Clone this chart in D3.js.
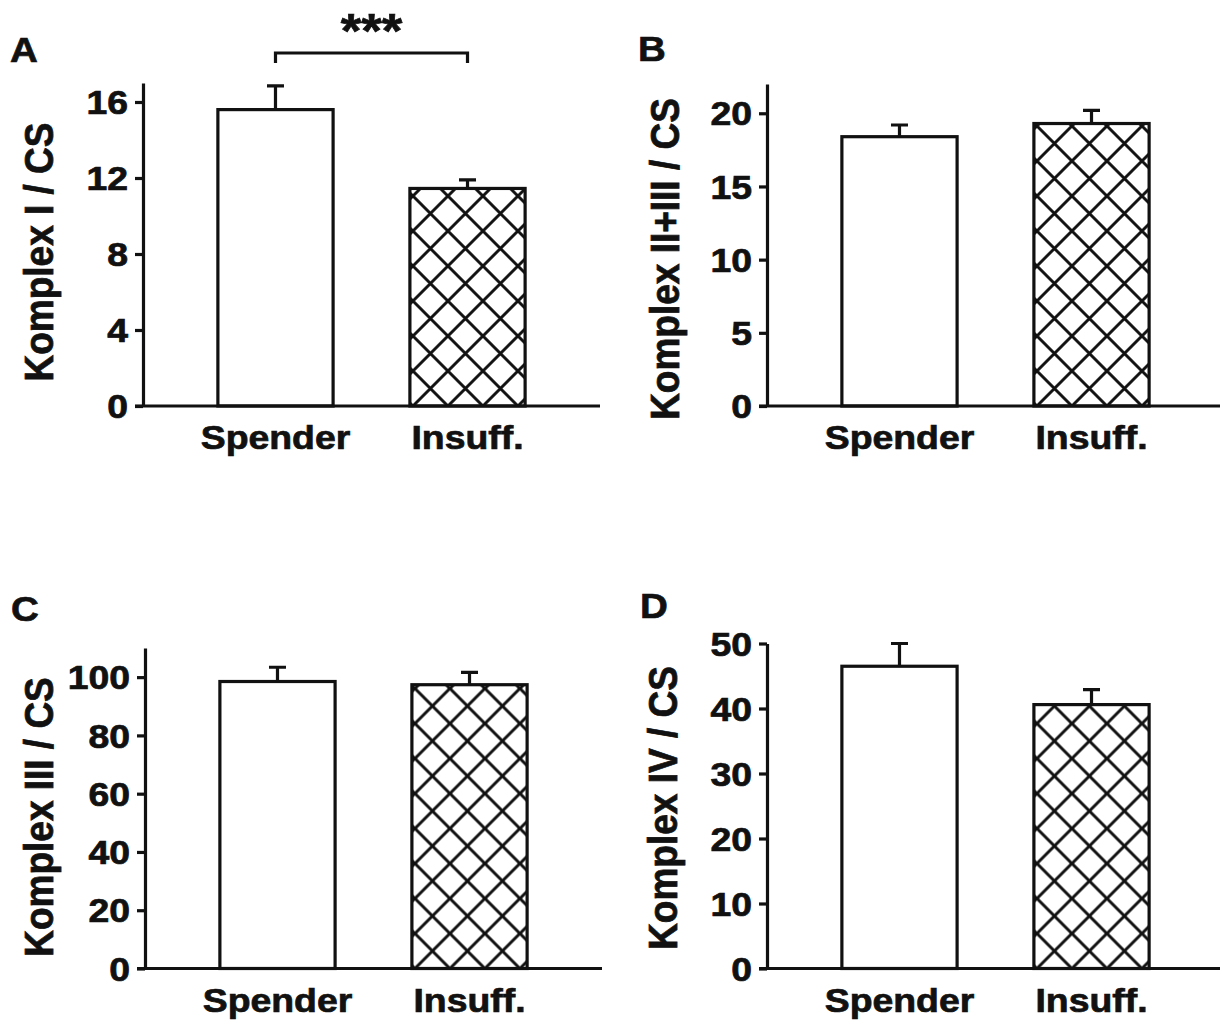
<!DOCTYPE html>
<html>
<head>
<meta charset="utf-8">
<script src="https://cdn.jsdelivr.net/npm/d3@7"></script>
<style>
  body { margin: 0; background: #fff; }
  svg text { font-family: "Liberation Sans", Arial, sans-serif; font-weight: bold; fill: #111; stroke: #111; stroke-width: 0.7px; }
</style>
</head>
<body>
<div id="chart"></div>
<script>
const width = 1220;
const height = 1023;

// data
const groups = ["Spender", "Insuff."];
const panelLetters = ["A", "B", "C", "D"];
const yLabels = ["Komplex I / CS", "Komplex II+III / CS", "Komplex III / CS", "Komplex IV / CS"];
const yMax = [17, 22, 110, 50];
const yTicks = [
  [0, 4, 8, 12, 16],
  [0, 5, 10, 15, 20],
  [0, 20, 40, 60, 80, 100],
  [0, 10, 20, 30, 40, 50]
];
const means = [
  [15.6, 11.45],
  [18.4, 19.3],
  [98.5, 97.4],
  [46.5, 40.6]
];
const sems = [
  [1.25, 0.45],
  [0.8, 0.9],
  [4.9, 4.2],
  [3.5, 2.3]
];
const signif = "***"; // only panel A

// layout of each panel (axis origin, top of axis, label anchors)
const layout = [
  { x0: 143, y0: 406, top: 83, labX: 53, labY: 252, letX: 10, letY: 62 },
  { x0: 767, y0: 406, top: 84, labX: 679, labY: 259, letX: 638, letY: 61 },
  { x0: 145, y0: 968.5, top: 648, labX: 53, labY: 817, letX: 11, letY: 621 },
  { x0: 767, y0: 968.5, top: 643.5, labX: 677, labY: 808, letX: 640, letY: 618 }
];
const axisLen = 457;
const tile = 35;
const stretch = 1.15;

const svg = d3.select("#chart")
  .append("svg")
  .attr("width", width)
  .attr("height", height);

svg.append("rect").attr("width", width).attr("height", height).attr("fill", "#fff");

const defs = svg.append("defs");
const s = tile;
const hatchPath = [
  `M0,0L${s},${s}`, `M${-s/2},${s/2}L${s/2},${3*s/2}`, `M${s/2},${-s/2}L${3*s/2},${s/2}`,
  `M${s},0L0,${s}`, `M${-s/2},${s/2}L${s/2},${-s/2}`, `M${s/2},${3*s/2}L${3*s/2},${s/2}`
].join("");

layout.forEach((L, i) => {
  const x = d3.scaleBand()
    .domain(groups)
    .range([L.x0, L.x0 + axisLen])
    .paddingInner(0.4)
    .paddingOuter(0.39);

  const y = d3.scaleLinear()
    .domain([0, yMax[i]])
    .range([L.y0, L.top]);

  // cross-hatch for the second bar, anchored at its lower left corner
  const pat = defs.append("pattern")
    .attr("id", "hatch" + i)
    .attr("patternUnits", "userSpaceOnUse")
    .attr("width", s)
    .attr("height", s)
    .attr("x", x(groups[1]) + 3)
    .attr("y", L.y0);
  pat.append("rect").attr("width", s).attr("height", s).attr("fill", "#fff");
  pat.append("path").attr("d", hatchPath).attr("stroke", "#111").attr("stroke-width", 3);

  const g = svg.append("g");

  // bars
  g.selectAll("rect.bar")
    .data(groups)
    .enter()
    .append("rect")
    .attr("class", "bar")
    .attr("x", d => x(d))
    .attr("width", x.bandwidth())
    .attr("y", (d, j) => y(means[i][j]))
    .attr("height", (d, j) => L.y0 - y(means[i][j]))
    .attr("fill", (d, j) => j === 0 ? "#fff" : `url(#hatch${i})`)
    .attr("stroke", "#111")
    .attr("stroke-width", 3.2);

  // error bars (upper only)
  groups.forEach((d, j) => {
    const cx = x(d) + x.bandwidth() / 2;
    const top = y(means[i][j] + sems[i][j]);
    g.append("path")
      .attr("d", `M${cx},${y(means[i][j])}V${top}M${cx - 8.5},${top}H${cx + 8.5}`)
      .attr("fill", "none")
      .attr("stroke", "#111")
      .attr("stroke-width", 3.2);
  });

  // x axis line
  g.append("line")
    .attr("x1", L.x0 - 8)
    .attr("x2", L.x0 + axisLen)
    .attr("y1", L.y0)
    .attr("y2", L.y0)
    .attr("stroke", "#111")
    .attr("stroke-width", 3.2);

  // y axis
  const ax = g.append("g")
    .attr("transform", `translate(${L.x0},0)`)
    .call(d3.axisLeft(y).tickValues(yTicks[i]).tickSize(8).tickSizeOuter(0).tickFormat(d3.format("d")));
  ax.select(".domain").attr("stroke", "#111").attr("stroke-width", 3.2);
  ax.selectAll(".tick line").attr("stroke", "#111").attr("stroke-width", 3.2);
  ax.selectAll(".tick text")
    .attr("x", 0)
    .attr("dy", "0.36em")
    .attr("transform", `translate(-15,0) scale(${stretch},1)`)
    .attr("font-size", 32.5)
    .attr("font-family", null)
    .attr("fill", "#111");

  // category labels
  g.selectAll("text.cat")
    .data(groups)
    .enter()
    .append("text")
    .attr("class", "cat")
    .attr("text-anchor", "middle")
    .attr("font-size", 32.5)
    .attr("transform", d => `translate(${x(d) + x.bandwidth() / 2},${L.y0 + 43}) scale(${stretch},1)`)
    .text(d => d);

  // y label
  g.append("text")
    .attr("text-anchor", "middle")
    .attr("font-size", 37)
    .attr("transform", `translate(${L.labX},${L.labY}) scale(1.08,1) rotate(-90)`)
    .text(yLabels[i]);

  // panel letter
  g.append("text")
    .attr("font-size", 35)
    .attr("transform", `translate(${L.letX},${L.letY}) scale(1.1,1)`)
    .text(panelLetters[i]);

  // significance bracket in panel A
  if (i === 0) {
    const c1 = x(groups[0]) + x.bandwidth() / 2;
    const c2 = x(groups[1]) + x.bandwidth() / 2;
    g.append("path")
      .attr("d", `M${c1},63V53H${c2}V63`)
      .attr("fill", "none")
      .attr("stroke", "#111")
      .attr("stroke-width", 3.2);
    g.append("text")
      .attr("text-anchor", "middle")
      .attr("font-size", 48)
      .attr("transform", `translate(${(c1 + c2) / 2},47) scale(1.1,1)`)
      .text(signif);
  }
});
</script>
</body>
</html>
